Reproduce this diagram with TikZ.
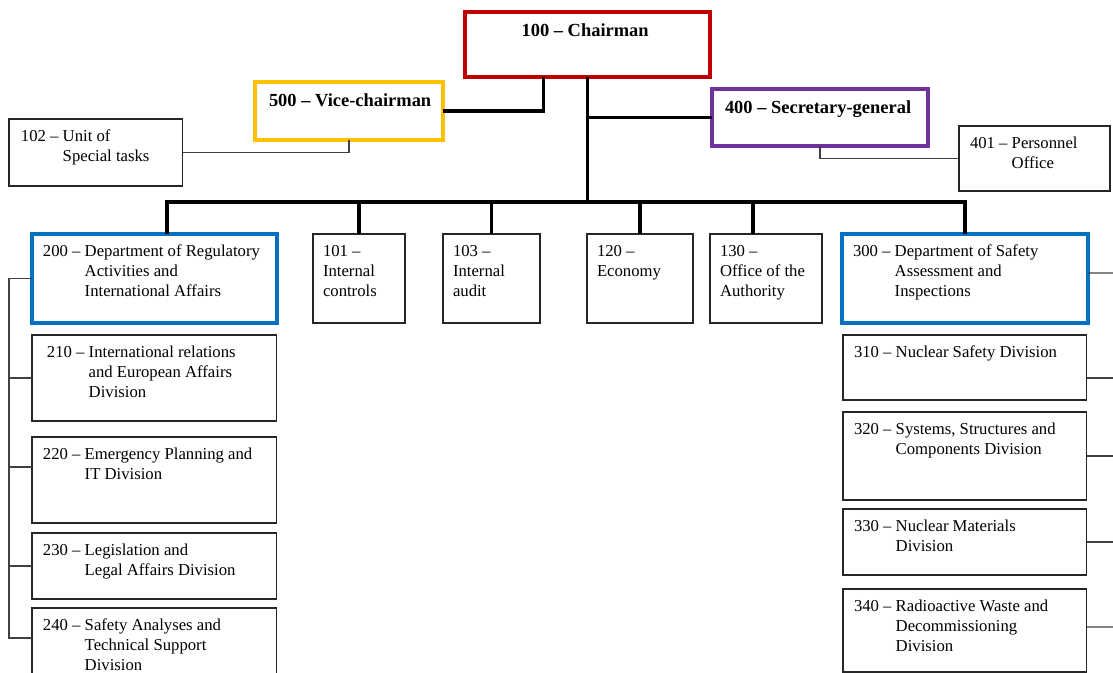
\documentclass[tikz,border=0pt]{standalone}
\usepackage{fontspec}
\setmainfont{Liberation Serif}
\usetikzlibrary{positioning}

\definecolor{chairred}{HTML}{C00000}
\definecolor{vicegold}{HTML}{FFC000}
\definecolor{secpurple}{HTML}{7030A0}
\definecolor{deptblue}{HTML}{0070C0}

% hanging label: number in the first column, text in the second
\newcommand{\orgtext}[1]{\begin{tabular}[t]{@{}l@{ }l@{}}#1\end{tabular}}

\begin{document}
\begin{tikzpicture}[x=0.02cm, y=-0.02cm,
		every node/.style={inner sep=0pt, outer sep=0pt},
		unit/.style={draw=black!85, line width=0.6pt, rectangle, anchor=north west},
		head/.style={unit, line width=2.3pt},
		txt/.style={anchor=north west, font=\fontsize{9.5}{11.4}\selectfont},
		headtxt/.style={anchor=north west, font=\fontsize{10.5}{12.6}\selectfont\bfseries},
		bus/.style={line width=2pt, black},
		link/.style={line width=0.6pt, black!75}]

	\useasboundingbox (0,0) rectangle (1113,673);
	\clip (0,0) rectangle (1113,673);

	% top level
	\node[head, draw=chairred, minimum width=4.9cm, minimum height=1.3cm] (chair) at (465,12) {};
	\node[head, draw=vicegold, minimum width=3.76cm, minimum height=1.16cm] (vice) at (255,82) {};
	\node[head, draw=secpurple, minimum width=4.32cm, minimum height=1.14cm] (sec) at (712,89) {};
	\node[unit, minimum width=3.48cm, minimum height=1.34cm] (u102) at (9,119) {};
	\node[unit, minimum width=3.02cm, minimum height=1.3cm] (u401) at (959,126) {};

	\node[headtxt, below=0.19cm of chair.north] (t100) {\orgtext{100 – Chairman}};
	\node[headtxt, below right=0.19cm and 0.28cm of vice.north west] (t500) {\orgtext{500 – Vice-chairman}};
	\node[headtxt, below right=0.19cm and 0.26cm of sec.north west] (t400) {\orgtext{400 – Secretary-general}};
	\node[txt, below right=0.17cm and 0.24cm of u102.north west] (t102) {\orgtext{102 –& Unit of\\ & Special tasks}};
	\node[txt, below right=0.17cm and 0.22cm of u401.north west] (t401) {\orgtext{401 –& Personnel\\ & Office}};

	% second level
	\node[head, draw=deptblue, minimum width=4.9cm, minimum height=1.78cm] (d200) at (32,234) {};
	\node[unit, minimum width=1.84cm, minimum height=1.78cm] (u101) at (313,234) {};
	\node[unit, minimum width=1.94cm, minimum height=1.78cm] (u103) at (443,234) {};
	\node[unit, minimum width=2.12cm, minimum height=1.78cm] (u120) at (587,234) {};
	\node[unit, minimum width=2.24cm, minimum height=1.78cm] (u130) at (710,234) {};
	\node[head, draw=deptblue, minimum width=4.92cm, minimum height=1.78cm] (d300) at (842,234) {};

	\node[txt, below right=0.17cm and 0.22cm of d200.north west] (t200) {\orgtext{200 –& Department of Regulatory\\ & Activities and\\ & International Affairs}};
	\node[txt, below right=0.16cm and 0.2cm of u101.north west] (t101) {\orgtext{101 –\\Internal\\controls}};
	\node[txt, below right=0.16cm and 0.2cm of u103.north west] (t103) {\orgtext{103 –\\Internal\\audit}};
	\node[txt, below right=0.16cm and 0.2cm of u120.north west] (t120) {\orgtext{120 –\\Economy}};
	\node[txt, below right=0.16cm and 0.2cm of u130.north west] (t130) {\orgtext{130 –\\Office of the\\Authority}};
	\node[txt, below right=0.17cm and 0.22cm of d300.north west] (t300) {\orgtext{300 –& Department of Safety\\ & Assessment and\\ & Inspections}};

	% divisions
	\node[unit, minimum width=4.9cm, minimum height=1.72cm] (d210) at (32,335) {};
	\node[unit, minimum width=4.9cm, minimum height=1.72cm] (d220) at (32,437) {};
	\node[unit, minimum width=4.9cm, minimum height=1.32cm] (d230) at (32,533) {};
	\node[unit, minimum width=4.9cm, minimum height=1.84cm] (d240) at (32,608) {};
	\node[unit, minimum width=4.88cm, minimum height=1.3cm] (d310) at (843,335) {};
	\node[unit, minimum width=4.88cm, minimum height=1.76cm] (d320) at (843,412) {};
	\node[unit, minimum width=4.88cm, minimum height=1.32cm] (d330) at (843,509) {};
	\node[unit, minimum width=4.88cm, minimum height=1.66cm] (d340) at (843,589) {};

	\node[txt, below right=0.16cm and 0.3cm of d210.north west] (t210) {\orgtext{210 –& International relations\\ & and European Affairs\\ & Division}};
	\node[txt, below right=0.16cm and 0.22cm of d220.north west] (t220) {\orgtext{220 –& Emergency Planning and\\ & IT Division}};
	\node[txt, below right=0.16cm and 0.22cm of d230.north west] (t230) {\orgtext{230 –& Legislation and\\ & Legal Affairs Division}};
	\node[txt, below right=0.16cm and 0.22cm of d240.north west] (t240) {\orgtext{240 –& Safety Analyses and\\ & Technical Support\\ & Division}};
	\node[txt, below right=0.16cm and 0.22cm of d310.north west] (t310) {\orgtext{310 –& Nuclear Safety Division}};
	\node[txt, below right=0.16cm and 0.22cm of d320.north west] (t320) {\orgtext{320 –& Systems, Structures and\\ & Components Division}};
	\node[txt, below right=0.16cm and 0.22cm of d330.north west] (t330) {\orgtext{330 –& Nuclear Materials\\ & Division}};
	\node[txt, below right=0.16cm and 0.22cm of d340.north west] (t340) {\orgtext{340 –& Radioactive Waste and\\ & Decommissioning\\ & Division}};

	% connectors
	\path (chair.south) ++(0,125) coordinate (busc);
	\coordinate (lbot) at (9,638);
	\coordinate (rbot) at (1130,627);

	\draw[bus] (chair.south) -- (busc);
	\draw[bus] ([xshift=-0.88cm]chair.south) |- (vice.east);
	\draw[bus] (chair.south |- sec.west) -- (sec.west);
	\draw[bus] ([xshift=0.25cm]d200.north) |- (busc) -| (d300.north);
	\draw[bus] (u101.north) -- (u101.north |- busc);
	\draw[bus] (u103.north) -- (u103.north |- busc);
	\draw[bus] (u120.north) -- (u120.north |- busc);
	\draw[bus] (busc) -| ([xshift=-0.26cm]u130.north);

	\draw[link] (vice.south) |- (u102.east);
	\draw[link] (sec.south) |- (u401.west);

	\draw[link] (d200.west) -| (lbot) -- (lbot -| d240.west);
	\draw[link] (lbot) |- (d210.west);
	\draw[link] (lbot) |- ([yshift=0.26cm]d220.west);
	\draw[link] (lbot) |- (d230.west);

	\draw[link] ([yshift=0.11cm]d300.east) -| (rbot) -- ([yshift=0.07cm]d340.east);
	\draw[link] (rbot) |- ([yshift=-0.21cm]d310.east);
	\draw[link] (rbot) |- (d320.east);
	\draw[link] (rbot) |- (d330.east);
\end{tikzpicture}
\end{document}
